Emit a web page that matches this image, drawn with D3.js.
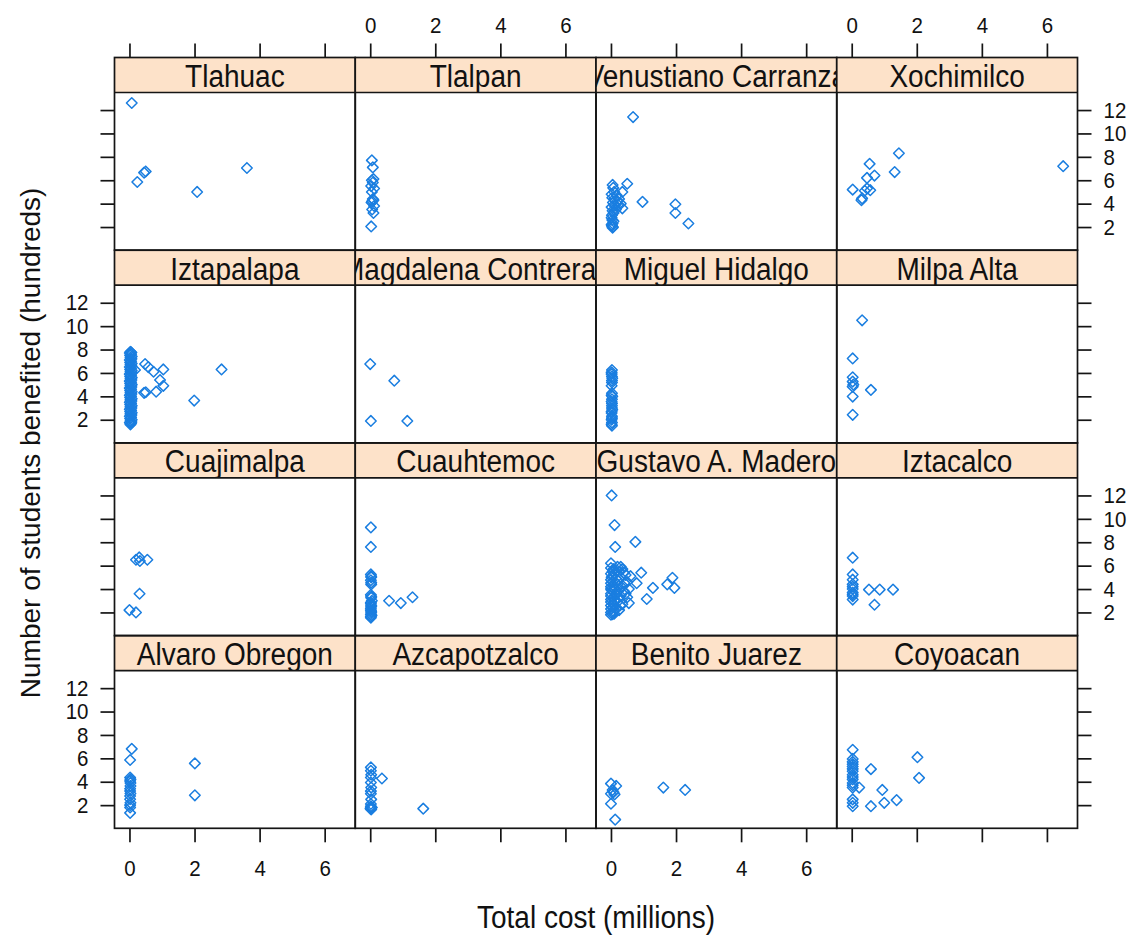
<!DOCTYPE html>
<html>
<head>
<meta charset="utf-8">
<script src="https://cdn.jsdelivr.net/npm/d3@7"></script>
<style>
  body { margin: 0; background: #fff; }
  text { font-family: "Liberation Sans", Arial, sans-serif; fill: #111; }
</style>
</head>
<body>
<svg id="chart" width="1136" height="938"></svg>
<script>
// Districts in factor-level order (lattice fills panels from the bottom-left)
const districts = [
  "Alvaro Obregon", "Azcapotzalco", "Benito Juarez", "Coyoacan",
  "Cuajimalpa", "Cuauhtemoc", "Gustavo A. Madero", "Iztacalco",
  "Iztapalapa", "Magdalena Contreras", "Miguel Hidalgo", "Milpa Alta",
  "Tlahuac", "Tlalpan", "Venustiano Carranza", "Xochimilco"
];

// [total cost (millions), students benefited (hundreds)] for each project
const alvaroObregon = [[0.07,6.81],[0.02,5.86],[0.02,4.36],[0.03,4.2],[0.02,4.07],[0.03,3.9],[0.03,3.64],
  [0.02,3.4],[0.02,3.21],[0.03,3.0],[0.02,2.78],[0.02,2.5],[0.03,2.2],[0.02,2.0],[0.02,1.8],[0.02,1.34],
  [2.01,5.57],[2.01,2.84]];
const azcapotzalco = [[0.02,5.23],[0.02,4.94],[0.03,4.6],[0.02,4.36],[0.02,3.93],[0.03,3.5],[0.02,3.2],
  [0.02,2.98],[0.03,2.49],[0.02,2.1],[0.02,1.9],[0.02,1.77],[0.05,1.8],[0.03,1.63],[0.01,1.7],
  [0.36,4.28],[1.63,1.7]];
const benitoJuarez = [[0.0,3.84],[0.16,3.64],[0.05,3.3],[0.0,2.98],[0.11,2.92],[0.08,3.1],[0.0,2.12],
  [0.13,0.76],[1.61,3.5],[2.28,3.3]];
const coyoacan = [[0.03,6.73],[0.03,5.95],[0.03,5.7],[0.03,5.5],[0.03,5.3],[0.03,5.1],[0.03,4.9],[0.03,4.6],
  [0.03,4.4],[0.03,4.2],[0.03,3.9],[0.03,3.7],[0.03,3.5],[0.23,3.5],[0.03,2.49],[0.03,2.2],[0.03,1.91],
  [0.59,5.08],[0.59,1.91],[0.94,3.3],[1.0,2.2],[1.38,2.43],[2.02,6.1],[2.07,4.33]];
const cuajimalpa = [[0.2,6.5],[0.3,6.7],[0.32,6.4],[0.55,6.5],[0.31,3.6],[0.0,2.2],[0.2,2.0]];
const cuauhtemoc = [[0.02,9.27],[0.02,7.6],[0.02,5.25],[0.03,5.1],[0.03,5.0],[0.02,4.75],[0.03,4.55],
  [0.03,4.4],[0.02,3.5],[0.03,3.35],[0.03,3.25],[0.05,3.0],[0.02,2.85],[0.02,2.75],[0.03,2.6],[0.03,2.5],
  [0.02,2.35],[0.02,2.2],[0.03,2.1],[0.03,2.0],[0.02,1.85],[0.04,1.75],[0.02,1.65],[0.02,1.55],
  [0.58,3.0],[0.94,2.8],[1.3,3.3]];
const gustavoMadero = [[0.02,12.0],[0.11,9.47],[0.13,7.6],[0.75,8.03],[0.0,6.2],[0.93,5.4],[0.79,4.5],
  [1.29,4.1],[1.1,3.15],[1.73,4.4],[1.89,4.96],[1.95,4.1],[0.55,2.8],[0.42,4.5],
  [0.0,5.8],[0.05,5.5],[0.1,5.3],[0.2,5.9],[0.3,5.9],[0.35,5.7],[0.25,5.5],[0.4,5.4],[0.45,5.2],[0.3,5.0],
  [0.15,4.9],[0.0,4.8],[0.05,4.6],[0.2,4.4],[0.35,4.3],[0.0,4.2],[0.1,4.0],[0.25,3.9],[0.4,3.8],[0.0,3.6],
  [0.15,3.5],[0.3,3.4],[0.5,3.3],[0.0,3.1],[0.1,3.0],[0.2,2.9],[0.35,2.7],[0.0,2.6],[0.05,2.4],[0.15,2.3],
  [0.25,2.2],[0.0,2.0],[0.05,1.85],[0.1,1.9],[0.6,5.1],[0.5,4.6],[0.45,3.6],[0.55,4.0],[0.05,5.1],[0.02,3.9],
  [0.0,5.3],[0.0,4.5],[0.0,4.0],[0.0,3.4],[0.0,2.9],[0.0,2.3],[0.0,1.8],[0.08,5.7],[0.08,4.3],[0.08,3.3],
  [0.08,2.7],[0.08,2.1],[0.18,5.6],[0.22,4.7],[0.18,3.7],[0.22,3.2],[0.28,2.6],[0.12,2.5],[0.02,5.0]];
const iztacalco = [[0.03,6.68],[0.03,5.25],[0.03,4.8],[0.03,4.4],[0.03,4.2],[0.03,4.0],[0.03,3.7],[0.03,3.55],
  [0.03,3.4],[0.03,3.1],[0.53,3.95],[0.86,3.95],[1.27,3.95],[0.7,2.66]];
const iztapalapa = [[0.03,7.8],[0.06,7.75],[0.01,7.7],[0.05,7.6],[0.02,7.5],[0.07,7.4],[0.03,7.3],[0.06,7.2],
  [0.01,7.1],[0.05,7.0],[0.02,6.9],[0.07,6.8],[0.03,6.7],[0.06,6.6],[0.01,6.5],[0.05,6.4],[0.02,6.3],
  [0.07,6.2],[0.03,6.1],[0.06,6.0],[0.01,5.9],[0.05,5.8],[0.02,5.7],[0.07,5.6],[0.03,5.5],[0.06,5.4],
  [0.01,5.3],[0.05,5.2],[0.02,5.1],[0.07,5.0],[0.03,4.9],[0.06,4.8],[0.01,4.7],[0.05,4.6],[0.02,4.5],
  [0.07,4.4],[0.03,4.3],[0.06,4.2],[0.01,4.1],[0.05,4.0],[0.02,3.9],[0.07,3.8],[0.03,3.7],[0.06,3.6],
  [0.01,3.5],[0.05,3.4],[0.02,3.3],[0.07,3.2],[0.03,3.1],[0.06,3.0],[0.01,2.9],[0.05,2.8],[0.02,2.7],
  [0.07,2.6],[0.03,2.5],[0.06,2.4],[0.01,2.3],[0.05,2.2],[0.02,2.1],[0.07,2.0],[0.03,1.9],[0.06,1.8],
  [0.01,1.75],[0.05,1.7],[0.03,1.6],
  [0.17,6.25],[0.48,6.76],[0.58,6.5],[0.74,6.1],[1.04,6.3],[0.94,5.4],[1.04,4.9],[0.82,4.4],[0.45,4.3],
  [0.5,4.35],[1.99,3.64],[2.83,6.3]];
const magdalenaContreras = [[0.0,6.76],[0.74,5.34],[0.02,1.9],[1.14,1.9]];
const miguelHidalgo = [[0.03,6.25],[0.02,6.05],[0.02,5.9],[0.03,5.7],[0.04,5.54],[0.03,5.35],[0.03,5.18],
  [0.02,4.9],[0.03,4.27],[0.02,4.1],[0.04,3.98],[0.03,3.75],[0.02,3.56],[0.03,3.4],[0.03,3.19],[0.03,3.0],
  [0.04,2.85],[0.02,2.7],[0.02,2.57],[0.03,2.3],[0.03,2.14],[0.02,2.0],[0.03,1.77],[0.02,1.62],[0.03,1.49]];
const milpaAlta = [[0.32,10.5],[0.03,7.24],[0.03,5.63],[0.03,5.26],[0.05,5.0],[0.03,4.83],[0.03,3.98],
  [0.59,4.55],[0.03,2.42]];
const tlahuac = [[0.07,12.6],[0.24,5.85],[0.45,6.65],[0.5,6.75],[2.08,5.0],[3.61,7.05]];
const tlalpan = [[0.05,7.7],[0.08,7.1],[0.1,6.1],[0.05,6.0],[0.08,5.8],[0.03,5.5],[0.12,5.3],[0.05,5.0],
  [0.08,4.4],[0.1,4.3],[0.06,4.2],[0.04,4.1],[0.12,3.8],[0.06,3.5],[0.1,3.2],[0.03,2.05]];
const venustianoCarranza = [[0.68,11.4],[0.5,5.7],[0.35,5.0],[0.05,5.6],[0.07,5.35],[0.1,5.0],[0.18,4.7],
  [0.25,4.4],[0.3,4.0],[0.35,3.6],[0.04,4.5],[0.06,4.1],[0.12,3.8],[0.05,3.4],[0.2,4.2],[0.15,3.5],
  [0.03,3.0],[0.04,2.6],[0.05,2.3],[0.03,2.1],[0.05,1.95],[0.02,2.2],[0.08,2.5],[0.02,4.8],[0.1,4.4],
  [0.22,3.9],[0.02,3.7],[0.08,3.2],[0.02,2.8],[0.06,2.0],[0.97,4.15],[1.98,3.95],[1.98,3.2],[2.38,2.3]];
const xochimilco = [[0.03,5.2],[0.3,4.3],[0.32,4.45],[0.4,5.1],[0.47,5.3],[0.57,5.15],[0.47,6.2],[0.55,7.4],
  [0.7,6.4],[1.32,6.7],[1.45,8.3],[6.5,7.2]];

const panelPoints = [alvaroObregon, azcapotzalco, benitoJuarez, coyoacan, cuajimalpa, cuauhtemoc,
  gustavoMadero, iztacalco, iztapalapa, magdalenaContreras, miguelHidalgo, milpaAlta,
  tlahuac, tlalpan, venustianoCarranza, xochimilco];

const xTicks = [0, 2, 4, 6];
const yTicks = [2, 4, 6, 8, 10, 12];
const xDomain = [-0.46, 6.94];
const yDomain = [0.02, 13.5];
const xTitle = "Total cost (millions)";
const yTitle = "Number of students benefited (hundreds)";

// Layout of the 4 x 4 trellis
const nCols = 4, nRows = 4;
const gridLeft = 114.5, colW = 240.75;
const gridTop = 57.5, rowH = 192.7, stripH = 35;
const tickLen = 14;
const stripFill = "#fde2c9";
const pointCol = "#1a7ee0";

const svg = d3.select("#chart");
svg.append("rect").attr("width", 1136).attr("height", 938).attr("fill", "#fff");

const colX = c => gridLeft + c * colW;
const rowY = r => gridTop + r * rowH;

const xScales = d3.range(nCols).map(c => d3.scaleLinear().domain(xDomain).range([colX(c), colX(c) + colW]));
const yScales = d3.range(nRows).map(r => d3.scaleLinear().domain(yDomain).range([rowY(r + 1), rowY(r) + stripH]));

// stretch a text vertically about its own centre (the type is set slightly tall)
function stretch(k) {
  return sel => sel.each(function () {
    const b = this.getBBox();
    const cy = b.y + b.height / 2;
    d3.select(this).attr("transform", `translate(0,${cy * (1 - k)}) scale(1,${k})`);
  });
}

const defs = svg.append("defs");
const marker = "M0,-5.3L5.3,0L0,5.3L-5.3,0Z";

districts.forEach((name, i) => {
  const r = nRows - 1 - Math.floor(i / nCols);
  const c = i % nCols;
  const x = xScales[c], y = yScales[r];
  const g = svg.append("g");

  // strip with clipped label
  const clipId = "strip-clip-" + i;
  defs.append("clipPath").attr("id", clipId)
    .append("rect").attr("x", colX(c)).attr("y", rowY(r)).attr("width", colW).attr("height", stripH);
  g.append("rect").attr("x", colX(c)).attr("y", rowY(r)).attr("width", colW).attr("height", stripH)
    .attr("fill", stripFill);
  g.append("g").attr("clip-path", `url(#${clipId})`)
    .append("text")
    .attr("x", colX(c) + colW / 2).attr("y", rowY(r) + 28.5)
    .attr("text-anchor", "middle").attr("font-size", 28).text(name)
    .call(stretch(1.1));

  // points
  const clipP = "panel-clip-" + i;
  defs.append("clipPath").attr("id", clipP)
    .append("rect").attr("x", colX(c)).attr("y", rowY(r) + stripH).attr("width", colW).attr("height", rowH - stripH);
  g.append("g").attr("clip-path", `url(#${clipP})`)
    .selectAll("path").data(panelPoints[i]).join("path")
    .attr("d", marker)
    .attr("transform", d => `translate(${x(d[0])},${y(d[1])})`)
    .attr("fill", "none").attr("stroke", pointCol).attr("stroke-width", 1.5)
    .attr("stroke-linejoin", "round");

  // borders
  g.append("rect").attr("x", colX(c)).attr("y", rowY(r)).attr("width", colW).attr("height", rowH)
    .attr("fill", "none").attr("stroke", "#151515").attr("stroke-width", 1.7);
  g.append("line").attr("x1", colX(c)).attr("x2", colX(c) + colW)
    .attr("y1", rowY(r) + stripH).attr("y2", rowY(r) + stripH)
    .attr("stroke", "#151515").attr("stroke-width", 1.7);
});

function styleAxis(sel) {
  sel.select(".domain").remove();
  sel.selectAll(".tick line").attr("stroke", "#151515").attr("stroke-width", 1.7);
  sel.selectAll(".tick text").attr("font-size", 20.5).attr("fill", "#111")
    .attr("font-family", '"Liberation Sans", Arial, sans-serif')
    .call(stretch(1.08));
}

// x axes: labels alternate between bottom (cols 1,3) and top (cols 2,4)
d3.range(nCols).forEach(c => {
  const topAx = d3.axisTop(xScales[c]).tickValues(xTicks).tickSize(tickLen).tickPadding(11)
    .tickFormat(c % 2 === 1 ? d3.format("d") : () => "");
  svg.append("g").attr("transform", `translate(0,${rowY(0)})`).call(topAx).call(styleAxis);
  const botAx = d3.axisBottom(xScales[c]).tickValues(xTicks).tickSize(tickLen).tickPadding(19)
    .tickFormat(c % 2 === 0 ? d3.format("d") : () => "");
  svg.append("g").attr("transform", `translate(0,${rowY(nRows)})`).call(botAx).call(styleAxis);
});

// y axes: labels alternate between left (rows 2,4) and right (rows 1,3)
d3.range(nRows).forEach(r => {
  const leftAx = d3.axisLeft(yScales[r]).tickValues(yTicks).tickSize(tickLen).tickPadding(12)
    .tickFormat(r % 2 === 1 ? d3.format("d") : () => "");
  svg.append("g").attr("transform", `translate(${colX(0)},0)`).call(leftAx).call(styleAxis);
  const rightAx = d3.axisRight(yScales[r]).tickValues(yTicks).tickSize(tickLen).tickPadding(12)
    .tickFormat(r % 2 === 0 ? d3.format("d") : () => "");
  svg.append("g").attr("transform", `translate(${colX(nCols)},0)`).call(rightAx).call(styleAxis);
});

// axis titles
svg.append("text").attr("x", gridLeft + nCols * colW / 2).attr("y", 927)
  .attr("text-anchor", "middle").attr("font-size", 28).text(xTitle).call(stretch(1.1));
svg.append("text").attr("transform", `translate(40,${gridTop + nRows * rowH / 2}) rotate(-90)`)
  .attr("text-anchor", "middle").attr("font-size", 28).text(yTitle);
</script>
</body>
</html>
